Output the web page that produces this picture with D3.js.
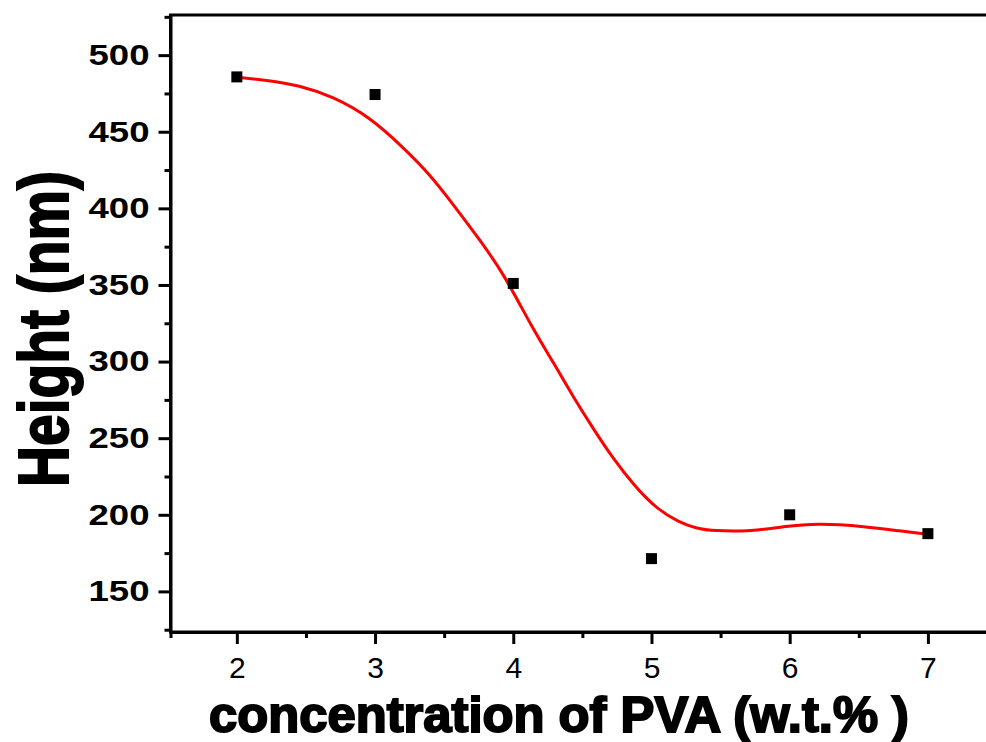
<!DOCTYPE html>
<html>
<head>
<meta charset="utf-8">
<script src="https://cdn.jsdelivr.net/npm/d3@7"></script>
<style>
  body { margin: 0; background: #fff; }
  svg { display: block; }
  text { font-family: "Liberation Sans", Arial, sans-serif; fill: #000; }
</style>
</head>
<body>
<div id="chart"></div>
<script>
// measured points
const concentration = [2, 3, 4, 5, 6, 7];
const heightNm = [485.8, 474.3, 351, 171.4, 200, 187.7];

// fitted red curve
const fitX = [2.0, 2.21, 2.45, 2.7, 2.96, 3.2, 3.39, 3.56, 3.76, 3.93, 4.14, 4.29, 4.43,
  4.58, 4.72, 4.87, 5.04, 5.2, 5.32, 5.45, 5.73, 5.95, 6.2, 6.55, 6.8, 7.0];
const fitY = [485.6, 483.7, 480.4, 472.8, 459.7, 440.1, 422.8, 403.2, 379.2, 357.5, 321.5,
  299.5, 277.5, 256, 237, 219.5, 203.5, 195.2, 191.2, 189.4, 189.2, 192.3, 194.6,
  192.4, 189.4, 187.2];

const yMajor = [150, 200, 250, 300, 350, 400, 450, 500];
const yMinor = [125, 175, 225, 275, 325, 375, 425, 475, 525];
const xMajor = [2, 3, 4, 5, 6, 7];
const xMinor = [1.52, 2.5, 3.5, 4.5, 5.5, 6.5, 7.5];

const W = 986, H = 742;
const plotLeft = 170.5, plotRight = 997, plotTop = 15, plotBottom = 632;

const svg = d3.select("#chart").append("svg")
  .attr("width", W)
  .attr("height", H);

const x = d3.scaleLinear().domain([1.52, 7.5]).range([plotLeft, plotRight]);
const y = d3.scaleLinear().domain([123.5, 526.2]).range([plotBottom, plotTop]);

// frame (top + right)
svg.append("rect")
  .attr("x", plotLeft).attr("y", plotTop)
  .attr("width", plotRight - plotLeft).attr("height", plotBottom - plotTop)
  .attr("fill", "none").attr("stroke", "#000").attr("stroke-width", 3);

function styleAxis(g) {
  g.selectAll("path").attr("stroke", "#000").attr("stroke-width", 3);
  g.selectAll("line").attr("stroke", "#000").attr("stroke-width", 3);
}

// y axis
const yAxisG = svg.append("g")
  .attr("transform", `translate(${plotLeft},0)`)
  .call(d3.axisLeft(y).tickValues(yMajor).tickSize(12).tickPadding(9).tickSizeOuter(0));
yAxisG.call(styleAxis);
yAxisG.selectAll("text")
  .attr("font-size", 29)
  .attr("font-weight", "bold")
  .attr("textLength", 61)
  .attr("lengthAdjust", "spacingAndGlyphs");

svg.append("g")
  .attr("transform", `translate(${plotLeft},0)`)
  .call(d3.axisLeft(y).tickValues(yMinor).tickSize(6).tickFormat("").tickSizeOuter(0))
  .call(styleAxis)
  .select(".domain").remove();

// x axis
const xAxisG = svg.append("g")
  .attr("transform", `translate(0,${plotBottom})`)
  .call(d3.axisBottom(x).tickValues(xMajor).tickFormat(d3.format("d"))
    .tickSize(12).tickPadding(13).tickSizeOuter(0));
xAxisG.call(styleAxis);
xAxisG.selectAll("text").attr("font-size", 30);

svg.append("g")
  .attr("transform", `translate(0,${plotBottom})`)
  .call(d3.axisBottom(x).tickValues(xMinor).tickSize(6).tickFormat("").tickSizeOuter(0))
  .call(styleAxis)
  .select(".domain").remove();

// fitted curve
const fit = fitX.map((v, i) => [v, fitY[i]]);
svg.append("path")
  .datum(fit)
  .attr("fill", "none")
  .attr("stroke", "#ff0000")
  .attr("stroke-width", 3)
  .attr("d", d3.line().x(d => x(d[0])).y(d => y(d[1])).curve(d3.curveBasis));

// points
const sq = 11;
svg.selectAll(".pt")
  .data(concentration.map((c, i) => ({ c: c, h: heightNm[i] })))
  .enter()
  .append("rect")
  .attr("class", "pt")
  .attr("x", d => x(d.c) - sq / 2)
  .attr("y", d => y(d.h) - sq / 2)
  .attr("width", sq)
  .attr("height", sq)
  .attr("fill", "#000");

// axis titles
svg.append("text")
  .attr("x", 559)
  .attr("y", 732)
  .attr("text-anchor", "middle")
  .attr("font-size", 50)
  .attr("font-weight", "bold")
  .attr("stroke", "#000")
  .attr("stroke-width", 2)
  .attr("textLength", 700)
  .attr("lengthAdjust", "spacingAndGlyphs")
  .text("concentration of PVA (w.t.% )");

svg.append("text")
  .attr("transform", "translate(68,329) rotate(-90)")
  .attr("text-anchor", "middle")
  .attr("font-size", 70)
  .attr("font-weight", "bold")
  .attr("stroke", "#000")
  .attr("stroke-width", 2)
  .attr("textLength", 316)
  .attr("lengthAdjust", "spacingAndGlyphs")
  .text("Height (nm)");
</script>
</body>
</html>
